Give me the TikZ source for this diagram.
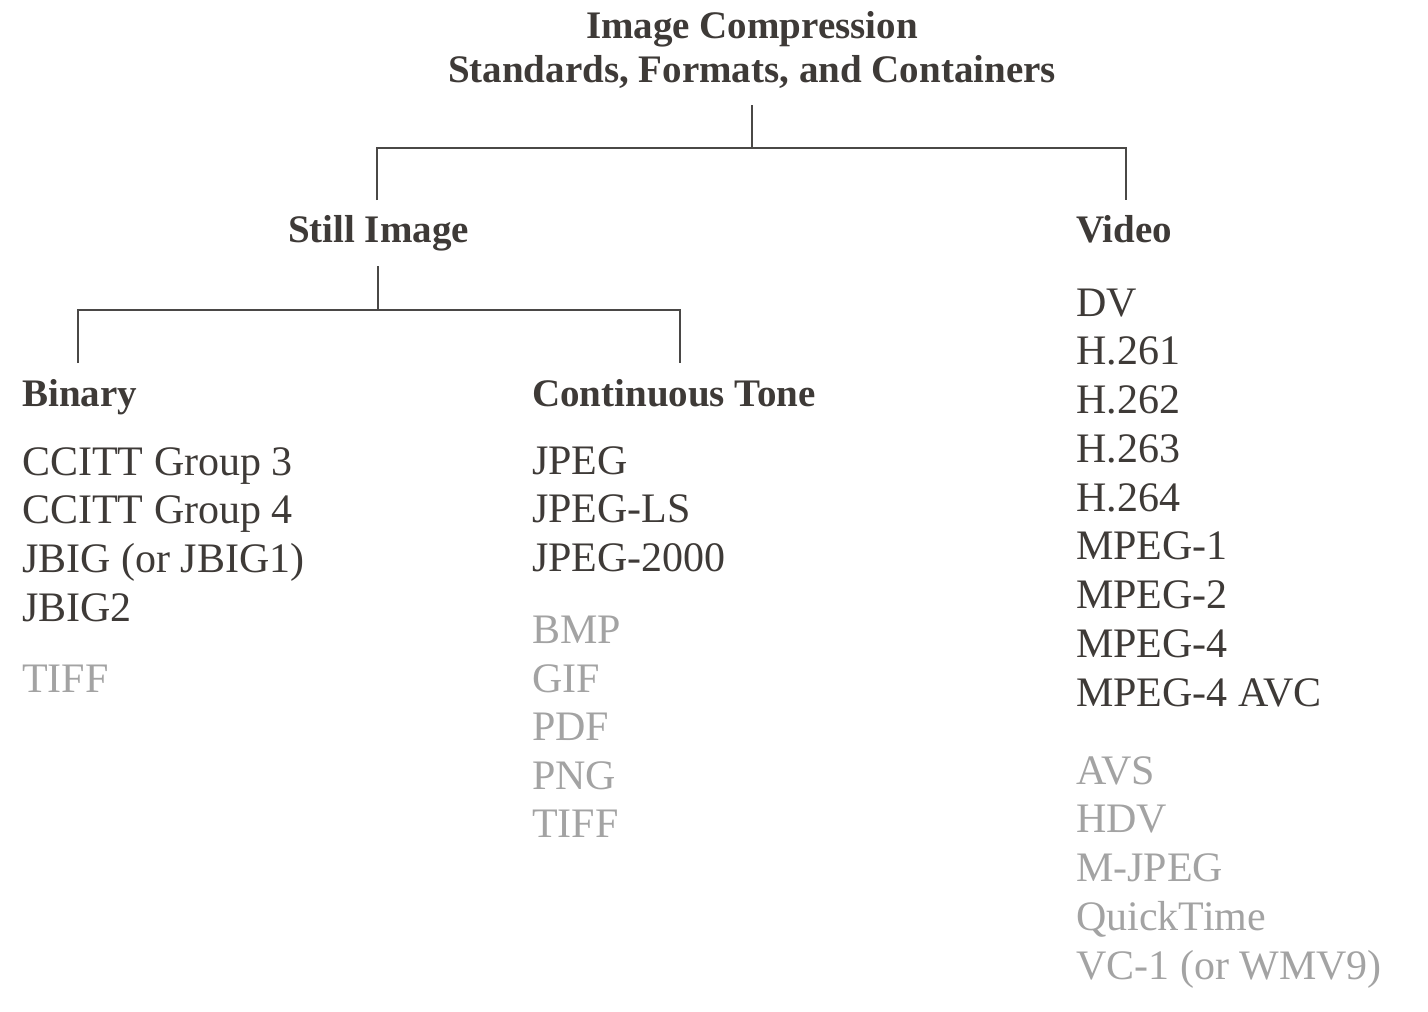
\documentclass[tikz,border=0pt]{standalone}
\usepackage{fontspec}
\setmainfont{Liberation Serif}
\definecolor{inkdark}{HTML}{3E3A37}
\definecolor{inkgrey}{HTML}{A3A3A3}
\definecolor{rule}{HTML}{4A4846}
\begin{document}
\begin{tikzpicture}[x=1pt,y=-1pt,
  head/.style={inner sep=0pt,text=inkdark,font=\bfseries\fontsize{39}{45}\selectfont},
  item/.style={inner sep=0pt,anchor=base west,text=inkdark,font=\fontsize{42}{49}\selectfont},
  faded/.style={item,text=inkgrey},
  tree/.style={draw=rule,line width=1.6pt}]
\useasboundingbox (0,0) rectangle (1428,1012);

% root title
\node[head,anchor=base,align=center] (root) at (752,38) {Image Compression};
\node[head,anchor=base] (root2) at (752,82) {Standards, Formats, and Containers};

% second level
\node[head,anchor=base] (still) at (378.5,242) {Still Image};
\node[head,anchor=base west] (video) at (1076,242) {Video};

% third level
\node[head,anchor=base west] (binary) at (22,406) {Binary};
\node[head,anchor=base west] (ctone) at (532,406) {Continuous Tone};

% branch points
\coordinate (rootTap) at (752,105);
\coordinate (rootBar) at (752,148);
\coordinate (stillTop) at (377,200);
\coordinate (videoTop) at (1126,200);
\coordinate (stillTap) at (378,266);
\coordinate (stillBar) at (378,310);
\coordinate (binaryTop) at (78,363);
\coordinate (ctoneTop) at (680,363);

\draw[tree] (rootTap) -- (rootBar);
\draw[tree] (stillTop) |- (rootBar) -| (videoTop);
\draw[tree] (stillTap) -- (stillBar);
\draw[tree] (binaryTop) |- (stillBar) -| (ctoneTop);

% binary
\foreach \t [count=\i from 0] in {CCITT Group 3,CCITT Group 4,JBIG (or JBIG1),JBIG2}
  \node[item] (b\i) at (22,475+48.7*\i) {\t};
\node[faded] (bT) at (22,692) {TIFF};

% continuous tone
\foreach \t [count=\i from 0] in {JPEG,JPEG-LS,JPEG-2000}
  \node[item] (c\i) at (532,474+48.7*\i) {\t};
\foreach \t [count=\i from 0] in {BMP,GIF,PDF,PNG,TIFF}
  \node[faded] (cf\i) at (532,643.5+48.6*\i) {\t};

% video
\foreach \t [count=\i from 0] in {DV,H.261,H.262,H.263,H.264,MPEG-1,MPEG-2,MPEG-4,MPEG-4 AVC}
  \node[item] (v\i) at (1076,316+48.75*\i) {\t};
\foreach \t [count=\i from 0] in {AVS,HDV,M-JPEG,QuickTime,VC-1 (or WMV9)}
  \node[faded] (vf\i) at (1076,784+48.75*\i) {\t};
\end{tikzpicture}
\end{document}
